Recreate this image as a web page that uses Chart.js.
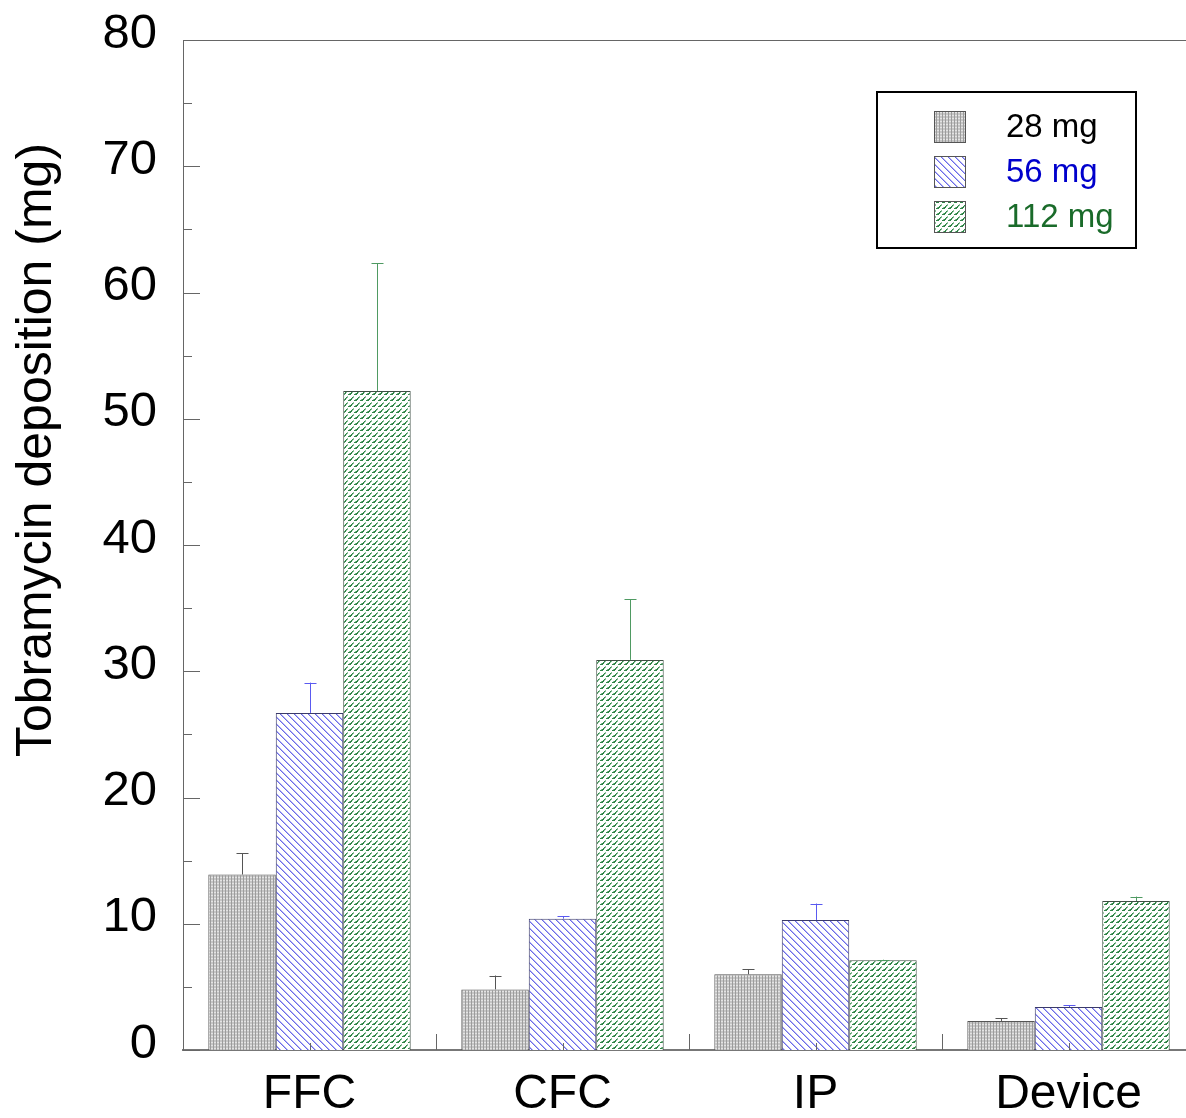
<!DOCTYPE html>
<html lang="en">
<head>
    <meta charset="UTF-8">
    <script src="https://cdn.jsdelivr.net/npm/chart.js@4.4.1/dist/chart.umd.min.js"></script>
    <title>Tobramycin deposition</title>
    <style>
        html, body { margin: 0; padding: 0; background: white; overflow: hidden; }
        .Chart-Container { position: relative; width: 1195px; height: 1118px; }
    </style>
</head>
<body>
    <div class="Chart-Container">
        <canvas id="depositionChart"></canvas>
    </div>
<script>
    var categories = ["FFC", "CFC", "IP", "Device"];
    var doseLabels = ["28 mg", "56 mg", "112 mg"];
    var dose28 = [13.9, 4.8, 6.0, 2.3];
    var dose56 = [26.7, 10.4, 10.3, 3.4];
    var dose112 = [52.2, 30.9, 7.1, 11.8];
    var err28 = [1.7, 1.1, 0.4, 0.2];
    var err56 = [2.4, 0.2, 1.3, 0.15];
    var err112 = [10.1, 4.8, 0.05, 0.35];
    var yTicks = [0, 10, 20, 30, 40, 50, 60, 70, 80];

    var FONT = "'Liberation Sans', Arial, sans-serif";

    function makePattern(w, h, draw) {
        var c = document.createElement('canvas');
        c.width = w; c.height = h;
        var g = c.getContext('2d');
        draw(g);
        return document.createElement('canvas').getContext('2d').createPattern(c, 'repeat');
    }

    var grayPattern = makePattern(3, 3, function(g) {
        g.fillStyle = '#c6c6c6';
        g.fillRect(0, 0, 3, 3);
        g.fillStyle = '#9c9c9c';
        g.fillRect(0, 0, 1, 3);
        g.fillStyle = '#e4e4e4';
        g.fillRect(1, 1, 2, 1);
    });

    var bluePattern = makePattern(7, 7, function(g) {
        g.fillStyle = 'white';
        g.fillRect(0, 0, 7, 7);
        g.fillStyle = '#6a6ae8';
        for (var i = 0; i < 7; i++) {
            g.fillRect(i, i, 1, 1);
        }
        g.fillStyle = '#b4b4f4';
        for (var i = 0; i < 7; i++) {
            g.fillRect((i + 1) % 7, i, 1, 1);
        }
    });

    var greenPattern = makePattern(6, 6, function(g) {
        g.fillStyle = 'white';
        g.fillRect(0, 0, 6, 6);
        g.fillStyle = '#2f8447';
        g.fillRect(0, 4, 3, 1);
        g.fillRect(2, 3, 2, 1);
        g.fillRect(3, 2, 1, 1);
        g.fillRect(4, 1, 1, 1);
        g.fillStyle = '#86bf95';
        g.fillRect(5, 0, 1, 1);
        g.fillRect(1, 3, 1, 1);
        g.fillRect(4, 2, 1, 1);
        g.fillRect(5, 1, 1, 1);
    });

    var patterns = [grayPattern, bluePattern, greenPattern];
    var borders = ['#555555', '#3a3a6a', '#3f4f44'];
    var errColors = ['#555555', '#5a5af0', '#4f9a62'];
    var textColors = ['#000000', '#0000cc', '#1a6b2a'];
    var errors = [err28, err56, err112];

    var chartDecor = {
        id: 'chartDecor',
        afterDatasetsDraw: function(chart) {
            var ctx = chart.ctx;
            var area = chart.chartArea;
            var y = chart.scales.y;
            var x = chart.scales.x;
            ctx.save();

            // error bars (upper only)
            chart.data.datasets.forEach(function(ds, i) {
                var meta = chart.getDatasetMeta(i);
                ctx.strokeStyle = errColors[i];
                ctx.lineWidth = 1;
                meta.data.forEach(function(bar, j) {
                    var top = y.getPixelForValue(ds.data[j] + errors[i][j]);
                    var bx = Math.round(bar.x) + 0.5;
                    ctx.beginPath();
                    ctx.moveTo(bx, bar.y);
                    ctx.lineTo(bx, top);
                    ctx.moveTo(bx - 6, Math.round(top) + 0.5);
                    ctx.lineTo(bx + 6, Math.round(top) + 0.5);
                    ctx.stroke();
                });
            });

            // frame: top line, inward ticks
            ctx.strokeStyle = '#666666';
            ctx.lineWidth = 1;
            ctx.beginPath();
            ctx.moveTo(area.left, area.top + 0.5);
            ctx.lineTo(chart.width, area.top + 0.5);
            for (var v = 0; v <= 80; v += 5) {
                var py = Math.round(y.getPixelForValue(v)) + 0.5;
                ctx.moveTo(area.left, py);
                ctx.lineTo(area.left + (v % 10 === 0 ? 17 : 9), py);
            }
            var n = categories.length;
            for (var k = 0; k < n; k++) {
                var cx = Math.round(x.getPixelForValue(k)) + 0.5;
                ctx.moveTo(cx, area.bottom);
                ctx.lineTo(cx, area.bottom - 7);
                if (k < n - 1) {
                    var bxp = Math.round((x.getPixelForValue(k) + x.getPixelForValue(k + 1)) / 2) + 0.5;
                    ctx.moveTo(bxp, area.bottom);
                    ctx.lineTo(bxp, area.bottom - 16);
                }
            }
            ctx.stroke();

            // y axis title
            ctx.fillStyle = '#000';
            ctx.font = '50px ' + FONT;
            ctx.textAlign = 'center';
            ctx.textBaseline = 'middle';
            ctx.translate(37, 450);
            ctx.rotate(-Math.PI / 2);
            ctx.fillText('Tobramycin deposition (mg)', 0, 0);
            ctx.setTransform(1, 0, 0, 1, 0, 0);

            // legend
            ctx.lineWidth = 2;
            ctx.strokeStyle = '#000';
            ctx.strokeRect(877, 92, 259, 156);
            ctx.font = '33px ' + FONT;
            ctx.textAlign = 'left';
            ctx.textBaseline = 'middle';
            for (var i = 0; i < 3; i++) {
                var sy = 111 + i * 45;
                ctx.fillStyle = patterns[i];
                ctx.fillRect(934, sy, 32, 32);
                ctx.lineWidth = 1;
                ctx.strokeStyle = '#555';
                ctx.strokeRect(934.5, sy + 0.5, 31, 31);
                ctx.fillStyle = textColors[i];
                ctx.fillText(doseLabels[i], 1006, sy + 17);
            }
            ctx.restore();
        }
    };

    var ctx = document.getElementById('depositionChart').getContext('2d');
    var depositionChart = new Chart(ctx, {
        type: 'bar',
        data: {
            labels: categories,
            datasets: [dose28, dose56, dose112].map(function(d, i) {
                return {
                    label: doseLabels[i],
                    data: d,
                    backgroundColor: patterns[i],
                    borderColor: borders[i],
                    borderWidth: 1,
                    borderSkipped: 'bottom'
                };
            })
        },
        options: {
            animation: false,
            responsive: true,
            maintainAspectRatio: false,
            layout: { padding: { top: 40, right: 0, left: 0, bottom: 0 } },
            datasets: {
                bar: { categoryPercentage: 0.80, barPercentage: 1.0 }
            },
            scales: {
                x: {
                    grid: { display: false },
                    border: { display: true, color: '#777777', width: 2 },
                    ticks: {
                        color: '#000',
                        font: { family: FONT, size: 48 },
                        padding: 8,
                        maxRotation: 0
                    },
                    afterFit: function(scale) {
                        scale.height = 68;
                        scale.paddingLeft = 0;
                        scale.paddingRight = 0;
                    }
                },
                y: {
                    min: 0,
                    max: 80,
                    afterBuildTicks: function(scale) {
                        scale.ticks = yTicks.map(function(v) { return { value: v }; });
                    },
                    grid: { display: false },
                    border: { display: true, color: '#666666', width: 1 },
                    ticks: {
                        color: '#000',
                        font: { family: FONT, size: 49 },
                        padding: 18,
                        labelOffset: -6
                    },
                    afterFit: function(scale) {
                        scale.width = 183;
                        scale.paddingTop = 0;
                        scale.paddingBottom = 0;
                    }
                }
            },
            plugins: {
                legend: { display: false },
                tooltip: { enabled: false }
            }
        },
        plugins: [chartDecor]
    });
</script>
</body>
</html>
